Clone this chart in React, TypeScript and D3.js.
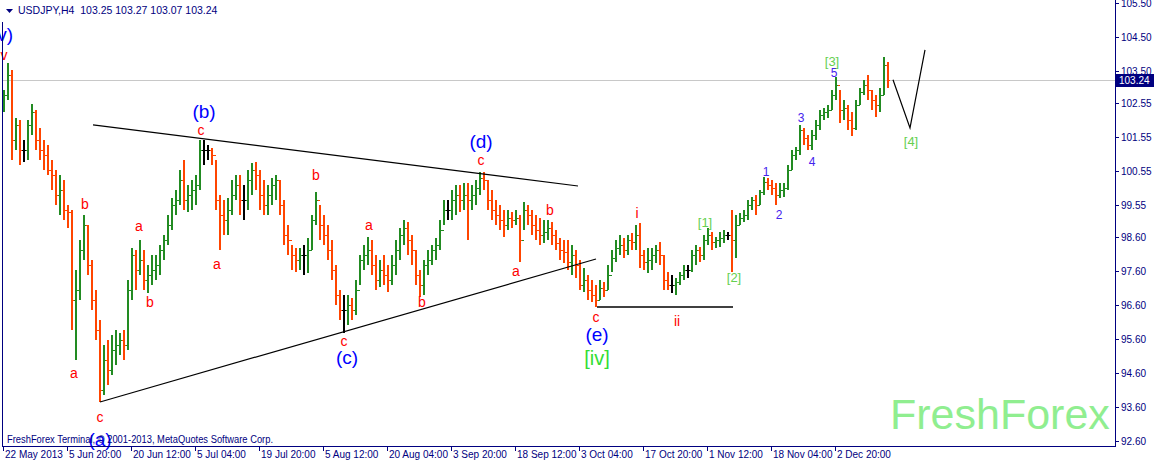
import React from 'react';
import * as d3 from 'd3';

// Aggregated OHLC (each entry = 4 H4 bars)
const highs = [102.94,103.73,103.53,102.11,102.05,101.46,102.05,102.52,102.35,101.82,101.46,101.32,100.87,100.58,100.43,100.29,99.55,99.40,97.63,98.52,99.25,98.96,97.93,97.04,96.16,95.42,95.57,95.72,95.87,95.78,95.87,97.34,98.28,98.22,98.52,98.22,97.78,98.07,98.07,98.37,98.66,99.25,99.75,99.99,100.58,100.87,100.14,100.29,100.43,101.46,101.46,101.32,101.23,100.87,99.84,99.70,99.75,100.29,100.43,100.43,100.14,100.58,100.79,100.82,100.58,100.29,100.14,100.34,100.43,100.29,99.70,98.96,98.37,98.28,98.28,98.37,98.58,99.25,99.93,99.55,99.25,98.96,98.52,97.78,97.04,96.90,96.90,96.81,97.34,98.07,98.37,98.61,98.52,98.07,97.93,98.07,97.78,98.07,98.52,98.87,99.11,99.05,98.66,98.22,97.63,97.93,98.22,98.37,98.58,99.11,99.70,99.70,99.99,100.14,100.14,100.20,100.20,100.14,100.29,100.52,100.52,100.29,99.99,99.70,99.55,99.40,99.40,99.34,99.40,99.25,99.64,99.55,99.40,99.25,99.17,99.11,99.11,99.05,98.81,98.58,98.52,98.52,98.37,98.22,97.93,97.69,97.49,97.34,97.19,97.34,97.28,97.78,98.22,98.52,98.66,98.58,98.66,98.72,98.96,99.02,98.22,98.28,98.28,98.37,98.46,98.07,97.57,97.49,97.40,97.57,97.78,97.78,98.22,98.37,98.31,98.66,98.87,98.75,98.61,98.75,98.81,98.75,99.40,99.25,99.31,99.40,99.70,99.78,99.84,99.99,100.37,100.34,100.29,100.20,100.20,100.20,100.73,101.17,101.26,101.91,101.82,101.61,101.76,102.05,102.35,102.41,102.49,102.94,103.32,102.94,102.64,102.49,102.29,102.64,103.00,103.23,103.38,102.94,102.79,103.00,103.91,103.76];
const lows = [102.29,102.64,100.87,101.17,100.73,100.82,100.87,101.61,101.17,100.87,100.58,100.43,99.99,99.55,99.25,99.11,98.87,95.87,94.98,96.75,97.93,97.49,96.46,95.57,93.75,93.95,94.25,94.54,94.83,95.13,94.98,95.28,96.75,97.04,97.49,97.04,96.96,97.19,97.34,97.49,97.93,98.37,98.81,99.25,99.55,99.40,99.34,99.40,99.55,99.99,100.73,100.87,100.73,99.40,98.22,98.66,98.66,99.25,99.70,99.25,99.11,99.40,99.84,99.99,99.40,99.25,99.25,99.55,99.70,99.25,98.37,98.07,97.63,97.57,97.63,97.49,97.55,98.22,98.96,98.52,98.37,97.93,97.34,96.60,96.16,95.78,96.01,96.16,96.31,97.19,97.63,97.78,97.49,97.04,97.13,97.19,96.99,97.19,97.49,97.93,98.37,98.07,97.78,97.19,96.84,96.90,97.49,97.78,97.93,98.22,98.96,99.11,99.11,99.25,99.34,99.40,98.52,99.40,99.55,99.84,99.99,99.40,99.11,98.96,98.81,98.61,98.81,98.87,98.96,97.87,98.81,98.96,98.66,98.52,98.37,98.43,98.52,98.37,98.22,97.93,97.84,97.63,97.49,97.40,97.04,96.99,96.75,96.69,96.54,96.75,96.84,97.04,97.57,97.87,98.07,97.99,98.07,98.22,98.22,97.69,97.63,97.55,97.63,97.84,97.78,97.04,97.04,96.96,96.90,97.19,97.34,97.40,97.57,97.78,97.87,97.93,98.37,98.22,98.28,98.31,98.43,98.52,97.57,97.99,98.96,99.05,99.11,99.40,99.25,99.55,99.84,99.99,99.84,99.55,99.75,99.78,99.99,100.58,100.87,101.02,101.32,101.17,101.17,101.46,101.76,102.05,102.11,102.35,102.64,101.96,102.05,101.76,101.58,101.76,102.49,102.79,102.64,102.35,102.14,102.29,102.79,103.00];
const closes = [102.79,103.38,101.46,101.91,101.17,101.17,101.91,102.29,101.46,101.17,101.02,100.58,100.43,99.84,99.99,99.40,99.34,96.75,97.04,98.22,98.96,97.78,96.75,95.87,94.10,94.98,94.69,95.28,95.42,95.57,95.42,97.04,98.07,97.63,97.93,97.34,97.49,97.63,97.78,98.22,98.52,98.96,99.55,99.70,100.29,99.70,99.84,99.99,100.14,101.17,101.17,101.17,101.02,99.70,99.25,99.11,99.40,99.84,100.14,99.70,99.70,100.29,100.58,100.43,99.84,99.55,99.84,100.14,100.29,99.55,98.66,98.52,98.07,97.93,98.07,98.07,98.22,99.11,99.70,98.96,98.66,98.22,97.63,96.90,96.46,96.46,96.60,96.46,97.04,97.93,98.07,98.22,97.78,97.34,97.63,97.49,97.34,97.78,98.22,98.66,98.87,98.52,98.22,97.49,97.19,97.78,97.93,98.22,98.37,98.81,99.40,99.40,99.70,99.84,99.70,99.84,99.70,99.84,100.05,100.34,100.29,99.70,99.40,99.25,99.11,98.96,99.17,99.11,99.17,98.52,99.40,99.25,98.96,98.81,98.66,98.75,98.87,98.66,98.43,98.22,98.16,97.87,98.07,97.78,97.19,97.34,97.04,96.90,96.75,97.10,97.04,97.49,97.99,98.28,98.37,98.22,98.52,98.46,98.66,98.07,97.87,97.93,98.07,98.22,98.07,97.34,97.19,97.19,97.28,97.49,97.63,97.63,98.07,98.22,98.07,98.52,98.66,98.46,98.52,98.58,98.66,98.66,98.52,98.96,99.17,99.25,99.55,99.70,99.55,99.93,100.23,100.14,100.05,99.84,99.99,100.05,100.58,101.02,101.17,101.76,101.52,101.32,101.61,101.91,102.20,102.29,102.35,102.79,103.08,102.35,102.41,102.05,101.82,102.49,102.88,103.08,102.94,102.64,102.49,102.79,103.67,103.24];
const firstOpen = 102.55;
const barsPerEntry = 4;

const priceTicks = [105.5, 104.5, 103.5, 102.55, 101.55, 100.55, 99.55, 98.6, 97.6, 96.6, 95.6, 94.6, 93.6, 92.6];
const timeLabels = ['22 May 2013', '5 Jun 20:00', '20 Jun 12:00', '5 Jul 04:00', '19 Jul 20:00', '5 Aug 12:00', '20 Aug 04:00', '3 Sep 20:00', '18 Sep 12:00', '3 Oct 04:00', '17 Oct 20:00', '1 Nov 12:00', '18 Nov 04:00', '2 Dec 20:00'];
const timeLabelStep = 64; // H4 bars between labels
const lastPrice = 103.24;
const headerText = 'USDJPY,H4  103.25 103.27 103.07 103.24';

// annotations: [H4 index, price]
const upperLine = [[90, 101.91], [575, 100.11]];
const lowerLine = [[97, 93.75], [593, 97.96]];
const flatLine = [[594, 96.55], [730, 96.55]];
const projection = [[890, 103.24], [907, 101.82], [922, 104.12]];

type Lbl = { t: string; x: number; p: number; kind: string };
const labels: Lbl[] = [
  { t: '(v)', x: -1, p: 104.38, kind: 'blue' },
  { t: 'v', x: 1, p: 103.82, kind: 'red' },
  { t: 'b', x: 82, p: 99.43, kind: 'red' },
  { t: 'a', x: 71, p: 94.45, kind: 'red' },
  { t: 'c', x: 97, p: 93.16, kind: 'red' },
  { t: '(a)', x: 97, p: 92.45, kind: 'blue' },
  { t: 'a', x: 136, p: 98.78, kind: 'red' },
  { t: 'b', x: 147, p: 96.55, kind: 'red' },
  { t: 'c', x: 198, p: 101.61, kind: 'red' },
  { t: '(b)', x: 201, p: 102.11, kind: 'blue' },
  { t: 'a', x: 214, p: 97.67, kind: 'red' },
  { t: 'b', x: 313, p: 100.29, kind: 'red' },
  { t: 'a', x: 366, p: 98.81, kind: 'red' },
  { t: 'c', x: 341, p: 95.40, kind: 'red' },
  { t: '(c)', x: 344, p: 94.87, kind: 'blue' },
  { t: 'b', x: 419, p: 96.55, kind: 'red' },
  { t: 'c', x: 478, p: 100.73, kind: 'red' },
  { t: '(d)', x: 478, p: 101.23, kind: 'blue' },
  { t: 'a', x: 513, p: 97.46, kind: 'red' },
  { t: 'b', x: 547, p: 99.26, kind: 'red' },
  { t: 'i', x: 634, p: 99.17, kind: 'red' },
  { t: 'c', x: 593, p: 96.10, kind: 'red' },
  { t: '(e)', x: 594, p: 95.54, kind: 'blue' },
  { t: '[iv]', x: 594, p: 94.84, kind: 'green' },
  { t: 'ii', x: 674, p: 95.99, kind: 'red' },
  { t: '[1]', x: 702, p: 98.90, kind: 'lgreen' },
  { t: '[2]', x: 731, p: 97.28, kind: 'lgreen' },
  { t: '1', x: 763, p: 100.40, kind: 'num' },
  { t: '2', x: 776, p: 99.14, kind: 'num' },
  { t: '3', x: 798, p: 102.00, kind: 'num' },
  { t: '4', x: 809, p: 100.70, kind: 'num' },
  { t: '5', x: 831, p: 103.32, kind: 'num' },
  { t: '[3]', x: 829, p: 103.64, kind: 'lgreen' },
  { t: '[4]', x: 908, p: 101.29, kind: 'lgreen' },
];

const styles: Record<string, { fill: string; size: number }> = {
  red: { fill: '#FF0000', size: 14 },
  blue: { fill: '#0000FF', size: 19 },
  green: { fill: '#33DD33', size: 20 },
  lgreen: { fill: '#66D050', size: 13 },
  num: { fill: '#4422EE', size: 12 },
};

const W = 1154, H = 463;
const NAVY = '#000080';

export default function App() {
  const x = d3.scaleLinear().domain([0, 1112]).range([3, 1115]);
  const y = d3.scaleLinear().domain([92.6, 105.5]).range([441, 3]);
  const plotRight = 1115, plotBottom = 446, plotLeft = 2;
  const line = d3.line<number[]>().x(d => x(d[0])).y(d => y(d[1]));

  const bars = highs.map((h, i) => {
    const open = i === 0 ? firstOpen : closes[i - 1];
    const c = closes[i];
    const col = c > open ? '#228B22' : c < open ? '#FF4500' : '#000000';
    const cx = Math.round(x(1 + i * barsPerEntry));
    return { cx, h: y(h), l: y(lows[i]), o: Math.round(y(open)) + 0.5, c: Math.round(y(c)) + 0.5, col };
  });

  const font = "'Liberation Sans', Arial, sans-serif";

  return (
    <svg width={W} height={H} style={{ position: 'absolute', left: 0, top: 0, background: '#fff' }} fontFamily={font}>
      <rect x={0} y={0} width={W} height={H} fill="#fff" />
      {/* current price line */}
      <line x1={plotLeft} x2={plotRight} y1={Math.round(y(lastPrice)) + 0.5} y2={Math.round(y(lastPrice)) + 0.5} stroke="#C8C8C8" strokeWidth={1} />
      {/* watermark */}
      <text x={890} y={429} fontSize={43} fill="#90EE90" fontFamily={font}>FreshForex</text>
      {/* bars */}
      <g shapeRendering="crispEdges">
        {bars.map((b, i) => (
          <g key={i} stroke={b.col}>
            <line x1={b.cx} x2={b.cx} y1={b.h} y2={b.l} strokeWidth={2} />
            <line x1={b.cx - 2} x2={b.cx} y1={b.o} y2={b.o} strokeWidth={1} />
            <line x1={b.cx} x2={b.cx + 2} y1={b.c} y2={b.c} strokeWidth={1} />
          </g>
        ))}
      </g>
      {/* trend lines */}
      <path d={line(upperLine as number[][]) || ''} stroke="#000" strokeWidth={1.2} fill="none" />
      <path d={line(lowerLine as number[][]) || ''} stroke="#000" strokeWidth={1.2} fill="none" />
      <path d={line(flatLine as number[][]) || ''} stroke="#000" strokeWidth={1.5} fill="none" />
      <path d={line(projection as number[][]) || ''} stroke="#000" strokeWidth={1.2} fill="none" />
      {/* wave labels */}
      {labels.map((l, i) => {
        const s = styles[l.kind];
        return (
          <text key={i} x={x(l.x)} y={y(l.p)} fontSize={s.size} fill={s.fill} textAnchor="middle">{l.t}</text>
        );
      })}
      {/* frame */}
      <g shapeRendering="crispEdges" stroke={NAVY}>
        <line x1={plotLeft + 0.5} x2={plotLeft + 0.5} y1={22} y2={plotBottom} />
        <line x1={plotLeft} x2={plotRight + 1} y1={plotBottom + 0.5} y2={plotBottom + 0.5} />
        <line x1={plotRight + 0.5} x2={plotRight + 0.5} y1={0} y2={plotBottom + 1} />
      </g>
      {/* header */}
      <polygon points="6,9 13,9 9.5,13" fill={NAVY} />
      <text x={18} y={14} fontSize={10.5} fill={NAVY} style={{ whiteSpace: 'pre' }}>{headerText}</text>
      {/* copyright */}
      <text x={7} y={443} fontSize={10} fill={NAVY} textLength={266} lengthAdjust="spacingAndGlyphs">FreshForex Terminal, © 2001-2013, MetaQuotes Software Corp.</text>
      {/* right axis */}
      {priceTicks.map((p, i) => {
        const py = Math.round(y(p)) + 0.5;
        return (
          <g key={i}>
            <line x1={plotRight} x2={plotRight + 4} y1={py} y2={py} stroke={NAVY} shapeRendering="crispEdges" />
            <text x={1121} y={py + 3.5} fontSize={10} fill={NAVY}>{p.toFixed(2)}</text>
          </g>
        );
      })}
      <rect x={1116} y={Math.round(y(lastPrice)) - 6} width={38} height={13} fill={NAVY} />
      <text x={1119} y={Math.round(y(lastPrice)) + 4} fontSize={10} fill="#fff">{lastPrice.toFixed(2)}</text>
      {/* bottom axis */}
      {timeLabels.map((t, i) => {
        const tx = Math.round(x(i * timeLabelStep)) + 0.5;
        return (
          <g key={i}>
            <line x1={tx} x2={tx} y1={plotBottom} y2={plotBottom + 5} stroke={NAVY} shapeRendering="crispEdges" />
            <text x={tx + 1.5} y={458} fontSize={10} fill={NAVY}>{t}</text>
          </g>
        );
      })}
    </svg>
  );
}
